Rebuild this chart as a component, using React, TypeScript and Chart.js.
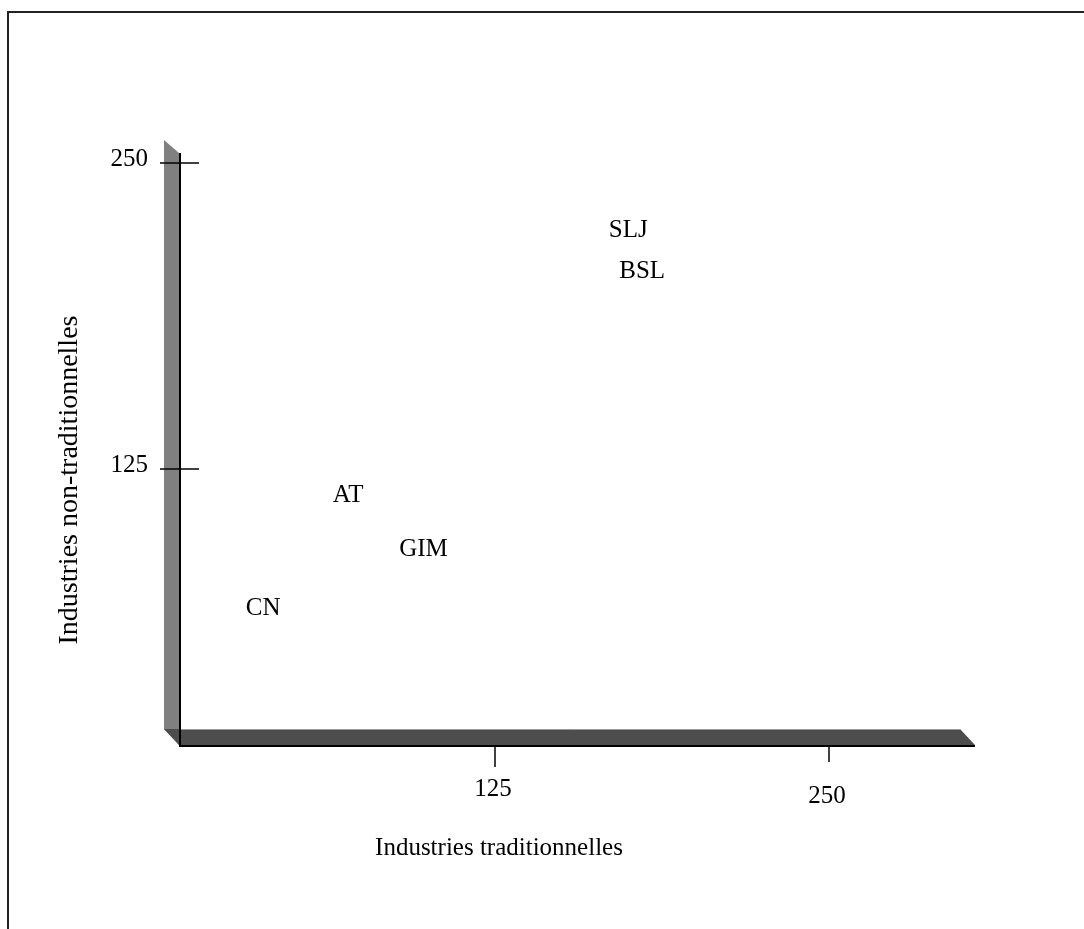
import React, { useEffect, useRef } from "react";
import { Chart, registerables } from "chart.js";

Chart.register(...registerables);

const pointLabels = ["SLJ", "BSL", "AT", "GIM", "CN"];
const xValues = [174.8, 180, 70, 98.2, 38.2];
const yValues = [223.2, 206.3, 114.8, 93.1, 69];
const xTicks = [125, 250];
const yTicks = [125, 250];
const xTitle = "Industries traditionnelles";
const yTitle = "Industries non-traditionnelles";

const FONT = '"Liberation Serif", "Times New Roman", serif';
const FS = 25;

const decorPlugin = {
  id: "decor",
  beforeDatasetsDraw(chart: any) {
    const ctx = chart.ctx as CanvasRenderingContext2D;
    const xs = chart.scales.x;
    const ys = chart.scales.y;
    const ca = chart.chartArea;
    ctx.save();
    // outer frame (top + left visible)
    ctx.strokeStyle = "#222";
    ctx.lineWidth = 2;
    ctx.beginPath();
    ctx.moveTo(8, 929);
    ctx.lineTo(8, 12);
    ctx.lineTo(1084, 12);
    ctx.stroke();

    const backX = ca.left + 3;
    const frontX = backX + 15;
    const yTop = ys.getPixelForValue(250) - 23;
    const floorFront = ys.getPixelForValue(0) - 30;
    const floorBack = floorFront - 16;
    const floorRightFront = ca.right + 12;
    const floorRightBack = floorRightFront - 15;

    // side wall
    ctx.fillStyle = "#808080";
    ctx.beginPath();
    ctx.moveTo(backX, yTop);
    ctx.lineTo(frontX, yTop + 13);
    ctx.lineTo(frontX, floorFront);
    ctx.lineTo(backX, floorBack);
    ctx.closePath();
    ctx.fill();

    // floor
    ctx.fillStyle = "#4d4d4d";
    ctx.beginPath();
    ctx.moveTo(backX, floorBack);
    ctx.lineTo(floorRightBack, floorBack);
    ctx.lineTo(floorRightFront, floorFront);
    ctx.lineTo(frontX, floorFront);
    ctx.closePath();
    ctx.fill();
    ctx.strokeStyle = "#9a9a9a";
    ctx.lineWidth = 1;
    ctx.beginPath();
    ctx.moveTo(frontX, floorBack + 0.5);
    ctx.lineTo(floorRightBack, floorBack + 0.5);
    ctx.stroke();

    // front axis lines
    ctx.strokeStyle = "#000";
    ctx.lineWidth = 2;
    ctx.beginPath();
    ctx.moveTo(frontX + 1, yTop + 13);
    ctx.lineTo(frontX + 1, floorFront + 1);
    ctx.lineTo(floorRightFront, floorFront + 1);
    ctx.stroke();

    // y ticks
    ctx.font = `${FS}px ${FONT}`;
    ctx.fillStyle = "#000";
    ctx.textAlign = "right";
    ctx.textBaseline = "alphabetic";
    ctx.lineWidth = 1.5;
    yTicks.forEach((v) => {
      const py = Math.round(ys.getPixelForValue(v));
      ctx.beginPath();
      ctx.moveTo(backX - 4, py);
      ctx.lineTo(frontX + 20, py);
      ctx.stroke();
      ctx.fillText(String(v), backX - 16, py + 3);
    });

    // x ticks
    ctx.textAlign = "center";
    xTicks.forEach((v, i) => {
      const px = Math.round(xs.getPixelForValue(v));
      const len = i === 0 ? 21 : 16;
      ctx.beginPath();
      ctx.moveTo(px, floorFront + 1);
      ctx.lineTo(px, floorFront + 1 + len);
      ctx.stroke();
      ctx.fillText(String(v), px - 2, floorFront + 51 + i * 7);
    });

    // titles
    ctx.fillText(xTitle, 499, floorFront + 110);
    ctx.save();
    ctx.font = `28px ${FONT}`;
    ctx.translate(77, 480);
    ctx.rotate(-Math.PI / 2);
    ctx.fillText(yTitle, 0, 0);
    ctx.restore();
    ctx.restore();
  },
  afterDatasetsDraw(chart: any) {
    const ctx = chart.ctx as CanvasRenderingContext2D;
    const meta = chart.getDatasetMeta(0);
    ctx.save();
    ctx.font = `${FS}px ${FONT}`;
    ctx.fillStyle = "#000";
    ctx.textAlign = "center";
    ctx.textBaseline = "alphabetic";
    meta.data.forEach((el: any, i: number) => {
      ctx.fillText(pointLabels[i], el.x, el.y + 8.5);
    });
    ctx.restore();
  },
};

export default function App() {
  const ref = useRef<HTMLCanvasElement | null>(null);
  useEffect(() => {
    if (!ref.current) return;
    const chart = new Chart(ref.current, {
      type: "scatter",
      data: {
        datasets: [
          {
            data: xValues.map((x, i) => ({ x, y: yValues[i] })),
            pointRadius: 0,
            pointHoverRadius: 0,
            backgroundColor: "transparent",
            borderColor: "transparent",
          },
        ],
      },
      options: {
        animation: false,
        responsive: true,
        maintainAspectRatio: false,
        events: [],
        layout: { padding: { left: 161, right: 121, top: 163, bottom: 154 } },
        plugins: { legend: { display: false }, tooltip: { enabled: false } },
        scales: {
          x: { type: "linear", min: 0, max: 300, display: false },
          y: { type: "linear", min: 0, max: 250, display: false },
        },
      },
      plugins: [decorPlugin],
    });
    return () => chart.destroy();
  }, []);
  return (
    <div style={{ position: "absolute", left: 0, top: 0, width: 1084, height: 929, overflow: "hidden", background: "#fff" }}>
      <canvas ref={ref} />
    </div>
  );
}
